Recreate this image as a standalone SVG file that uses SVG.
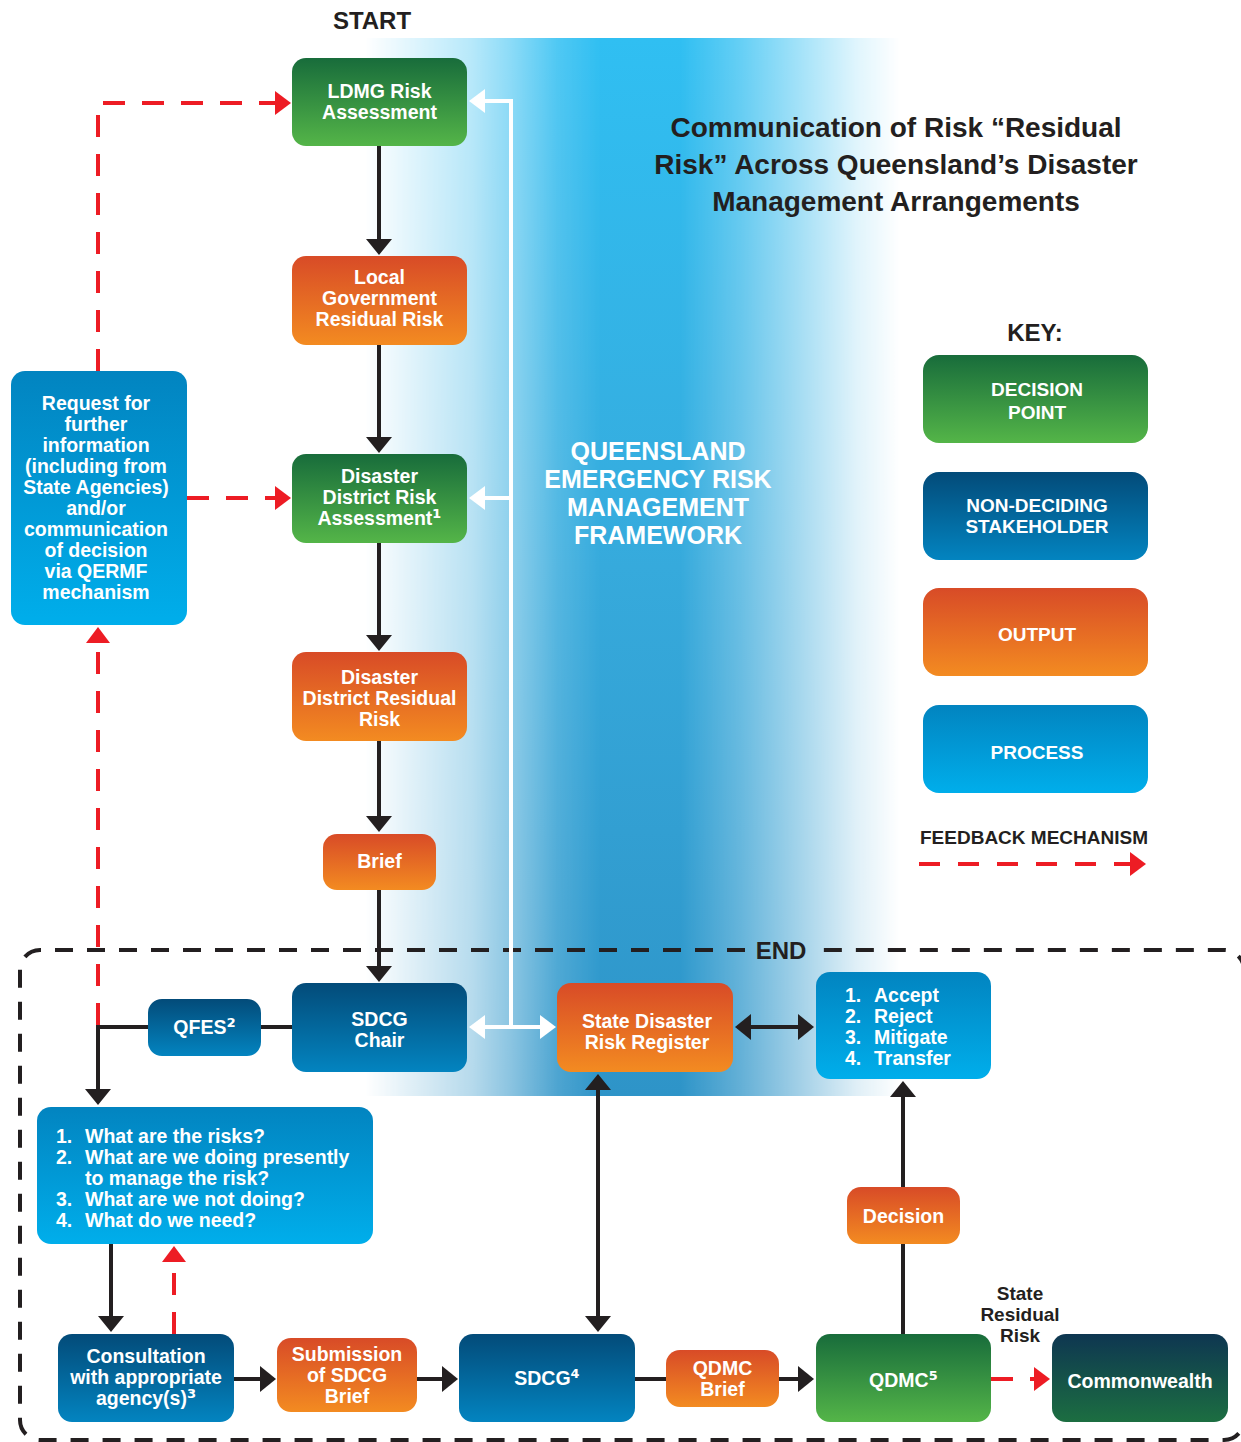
<svg xmlns="http://www.w3.org/2000/svg" width="1241" height="1442" viewBox="0 0 1241 1442">
<defs>
<linearGradient id="gGreen" x1="0" y1="0" x2="0" y2="1"><stop offset="0" stop-color="#186c3b"/><stop offset="1" stop-color="#54b548"/></linearGradient>
<linearGradient id="gOrange" x1="0" y1="0" x2="0" y2="1"><stop offset="0" stop-color="#d84b27"/><stop offset="1" stop-color="#f38b21"/></linearGradient>
<linearGradient id="gDark" x1="0" y1="0" x2="0" y2="1"><stop offset="0" stop-color="#034b79"/><stop offset="1" stop-color="#0384c0"/></linearGradient>
<linearGradient id="gProc" x1="0" y1="0" x2="0" y2="1"><stop offset="0" stop-color="#0284c0"/><stop offset="1" stop-color="#00aeeb"/></linearGradient>
<linearGradient id="gCw" x1="0" y1="0" x2="0" y2="1"><stop offset="0" stop-color="#0e3651"/><stop offset="1" stop-color="#1c6e41"/></linearGradient>
<linearGradient id="bandV" gradientUnits="userSpaceOnUse" x1="0" y1="38" x2="0" y2="1096"><stop offset="0" stop-color="#30bff2"/><stop offset="0.5" stop-color="#36aadc"/><stop offset="1" stop-color="#2e94c8"/></linearGradient>
<linearGradient id="bandH" gradientUnits="userSpaceOnUse" x1="365" y1="0" x2="900" y2="0">
<stop offset="0" stop-color="#fff" stop-opacity="0"/>
<stop offset="0.2" stop-color="#fff" stop-opacity="0.35"/>
<stop offset="0.27" stop-color="#fff" stop-opacity="0.55"/>
<stop offset="0.36" stop-color="#fff" stop-opacity="0.85"/>
<stop offset="0.44" stop-color="#fff" stop-opacity="1"/>
<stop offset="0.59" stop-color="#fff" stop-opacity="1"/>
<stop offset="0.7" stop-color="#fff" stop-opacity="0.75"/>
<stop offset="0.81" stop-color="#fff" stop-opacity="0.45"/>
<stop offset="0.92" stop-color="#fff" stop-opacity="0.15"/>
<stop offset="1" stop-color="#fff" stop-opacity="0"/>
</linearGradient>
<mask id="bandMask" maskUnits="userSpaceOnUse" x="360" y="38" width="545" height="1058"><rect x="360" y="38" width="545" height="1058" fill="url(#bandH)"/></mask>
<marker id="mB" viewBox="0 0 16 26" refX="6" refY="13" markerWidth="16" markerHeight="26" markerUnits="userSpaceOnUse" orient="auto-start-reverse"><path d="M0,0 L16,13 L0,26 z" fill="#231f20"/></marker>
<marker id="mR" viewBox="0 0 16 24" refX="6" refY="12" markerWidth="16" markerHeight="24" markerUnits="userSpaceOnUse" orient="auto-start-reverse"><path d="M0,0 L16,12 L0,24 z" fill="#ed1c24"/></marker>
<marker id="mW" viewBox="0 0 16 24" refX="6" refY="12" markerWidth="16" markerHeight="24" markerUnits="userSpaceOnUse" orient="auto-start-reverse"><path d="M0,0 L16,12 L0,24 z" fill="#fff"/></marker>
<style>
.green{fill:url(#gGreen)}
.orange{fill:url(#gOrange)}
.dark{fill:url(#gDark)}
.proc{fill:url(#gProc)}
.cw{fill:url(#gCw)}
text{font-family:"Liberation Sans",Arial,"DejaVu Sans",sans-serif;font-weight:700}
.sup{font-family:"DejaVu Sans",sans-serif;font-size:21px}
.t{font-size:19.5px;fill:#fff;text-anchor:middle}
.tl{font-size:19.5px;fill:#fff;text-anchor:start}
.k{font-size:19px;fill:#fff;text-anchor:middle}
.h{font-size:24px;fill:#231f20;text-anchor:middle}
.title{font-size:28px;fill:#231f20;text-anchor:middle}
.qf{font-size:25px;fill:#fff;text-anchor:middle}
.blk{stroke:#231f20;stroke-width:4;fill:none}
.red{stroke:#ed1c24;stroke-width:4;fill:none;stroke-dasharray:22 17}
.wht{stroke:#fff;stroke-width:4;fill:none}
.border{stroke:#231f20;stroke-width:4;fill:none;stroke-dasharray:18 14}
</style>
</defs>
<rect width="1241" height="1442" fill="#fff"/>
<rect x="360" y="38" width="545" height="1058" fill="url(#bandV)" mask="url(#bandMask)"/>

<text class="h" x="372" y="29">START</text>
<text class="title" x="896" y="137">Communication of Risk “Residual</text>
<text class="title" x="896" y="174">Risk” Across Queensland’s Disaster</text>
<text class="title" x="896" y="211">Management Arrangements</text>
<text class="qf" x="658" y="460">QUEENSLAND</text>
<text class="qf" x="658" y="488">EMERGENCY RISK</text>
<text class="qf" x="658" y="516">MANAGEMENT</text>
<text class="qf" x="658" y="544">FRAMEWORK</text>

<path class="border" d="M745 950 H40 A20 20 0 0 0 20 970 V1420 A20 20 0 0 0 40 1440 H1224 A20 20 0 0 0 1244 1420 V970 A20 20 0 0 0 1224 950 H818"/>
<text class="h" x="781" y="959">END</text>

<g id="connectors">
<path class="blk" d="M379 146 V245" marker-end="url(#mB)"/>
<path class="blk" d="M379 345 V443" marker-end="url(#mB)"/>
<path class="blk" d="M379 543 V641" marker-end="url(#mB)"/>
<path class="blk" d="M379 741 V822" marker-end="url(#mB)"/>
<path class="blk" d="M379 890 V972" marker-end="url(#mB)"/>
<path class="blk" d="M148 1027 H98 V1095" marker-end="url(#mB)"/>
<path class="blk" d="M261 1027 H292"/>
<path class="blk" d="M111 1244 V1322" marker-end="url(#mB)"/>
<path class="blk" d="M234 1379 H266" marker-end="url(#mB)"/>
<path class="blk" d="M417 1379 H448" marker-end="url(#mB)"/>
<path class="blk" d="M635 1379 H666"/>
<path class="blk" d="M779 1379 H804" marker-end="url(#mB)"/>
<path class="blk" d="M598 1084 V1322" marker-start="url(#mB)" marker-end="url(#mB)"/>
<path class="blk" d="M745 1027 H804" marker-start="url(#mB)" marker-end="url(#mB)"/>
<path class="blk" d="M903 1334 V1244"/>
<path class="blk" d="M903 1187 V1091" marker-end="url(#mB)"/>
<path class="wht" d="M511 1027 V101 H479" marker-end="url(#mW)"/>
<path class="wht" d="M511 498 H479" marker-end="url(#mW)"/>
<path class="wht" d="M479 1027 H546" marker-start="url(#mW)" marker-end="url(#mW)"/>
<path class="red" d="M98 371 V103 H281" marker-end="url(#mR)"/>
<path class="red" d="M187 498 H281" marker-end="url(#mR)"/>
<path class="red" d="M98 1025 V637" marker-end="url(#mR)"/>
<path class="red" d="M174 1334 V1256" marker-end="url(#mR)"/>
<path class="red" d="M991 1379 H1040" marker-end="url(#mR)"/>
</g>

<g id="ldmg"><rect class="green" x="292" y="58" width="175" height="88" rx="14"/><text class="t" x="379.5" y="98">LDMG Risk</text><text class="t" x="379.5" y="119">Assessment</text></g>
<g id="lgrr"><rect class="orange" x="292" y="256" width="175" height="89" rx="14"/><text class="t" x="379.5" y="284">Local</text><text class="t" x="379.5" y="305">Government</text><text class="t" x="379.5" y="326">Residual Risk</text></g>
<g id="ddra"><rect class="green" x="292" y="454" width="175" height="89" rx="14"/><text class="t" x="379.5" y="483">Disaster</text><text class="t" x="379.5" y="504">District Risk</text><text class="t" x="379.5" y="525">Assessment<tspan class="sup">¹</tspan></text></g>
<g id="ddrr"><rect class="orange" x="292" y="652" width="175" height="89" rx="14"/><text class="t" x="379.5" y="684">Disaster</text><text class="t" x="379.5" y="705">District Residual</text><text class="t" x="379.5" y="726">Risk</text></g>
<g id="brief"><rect class="orange" x="323" y="834" width="113" height="56" rx="14"/><text class="t" x="379.5" y="868">Brief</text></g>
<g id="request"><rect class="proc" x="11" y="371" width="176" height="254" rx="14"/>
<text class="t" x="96" y="410">Request for</text><text class="t" x="96" y="431">further</text><text class="t" x="96" y="452">information</text><text class="t" x="96" y="473">(including from</text><text class="t" x="96" y="494">State Agencies)</text><text class="t" x="96" y="515">and/or</text><text class="t" x="96" y="536">communication</text><text class="t" x="96" y="557">of decision</text><text class="t" x="96" y="578">via QERMF</text><text class="t" x="96" y="599">mechanism</text></g>
<g id="sdcg-chair"><rect class="dark" x="292" y="983" width="175" height="89" rx="14"/><text class="t" x="379.5" y="1026">SDCG</text><text class="t" x="379.5" y="1047">Chair</text></g>
<g id="qfes"><rect class="dark" x="148" y="999" width="113" height="57" rx="14"/><text class="t" x="204.5" y="1034">QFES<tspan class="sup">²</tspan></text></g>
<g id="sdrr"><rect class="orange" x="557" y="983" width="176" height="89" rx="14"/><text class="t" x="647" y="1028">State Disaster</text><text class="t" x="647" y="1049">Risk Register</text></g>
<g id="options"><rect class="proc" x="816" y="972" width="175" height="107" rx="14"/>
<text class="tl" x="845" y="1002">1.</text><text class="tl" x="874" y="1002">Accept</text>
<text class="tl" x="845" y="1023">2.</text><text class="tl" x="874" y="1023">Reject</text>
<text class="tl" x="845" y="1044">3.</text><text class="tl" x="874" y="1044">Mitigate</text>
<text class="tl" x="845" y="1065">4.</text><text class="tl" x="874" y="1065">Transfer</text></g>
<g id="questions"><rect class="proc" x="37" y="1107" width="336" height="137" rx="14"/>
<text class="tl" x="56" y="1143">1.</text><text class="tl" x="85" y="1143">What are the risks?</text>
<text class="tl" x="56" y="1164">2.</text><text class="tl" x="85" y="1164">What are we doing presently</text>
<text class="tl" x="85" y="1185">to manage the risk?</text>
<text class="tl" x="56" y="1206">3.</text><text class="tl" x="85" y="1206">What are we not doing?</text>
<text class="tl" x="56" y="1227">4.</text><text class="tl" x="85" y="1227">What do we need?</text></g>
<g id="decision"><rect class="orange" x="847" y="1187" width="113" height="57" rx="14"/><text class="t" x="903.5" y="1223">Decision</text></g>
<g id="consultation"><rect class="dark" x="58" y="1334" width="176" height="88" rx="14"/><text class="t" x="146" y="1363">Consultation</text><text class="t" x="146" y="1384">with appropriate</text><text class="t" x="146" y="1405">agency(s)<tspan class="sup">³</tspan></text></g>
<g id="submission"><rect class="orange" x="277" y="1338" width="140" height="74" rx="14"/><text class="t" x="347" y="1361">Submission</text><text class="t" x="347" y="1382">of SDCG</text><text class="t" x="347" y="1403">Brief</text></g>
<g id="sdcg"><rect class="dark" x="459" y="1334" width="176" height="88" rx="14"/><text class="t" x="547" y="1385">SDCG<tspan class="sup">⁴</tspan></text></g>
<g id="qdmc-brief"><rect class="orange" x="666" y="1350" width="113" height="57" rx="14"/><text class="t" x="722.5" y="1375">QDMC</text><text class="t" x="722.5" y="1396">Brief</text></g>
<g id="qdmc"><rect class="green" x="816" y="1334" width="175" height="88" rx="14"/><text class="t" x="903.5" y="1387">QDMC<tspan class="sup">⁵</tspan></text></g>
<g id="commonwealth"><rect class="cw" x="1052" y="1334" width="176" height="88" rx="14"/><text class="t" x="1140" y="1388">Commonwealth</text></g>
<g id="state-residual-label"><text class="t" x="1020" y="1300" style="fill:#231f20;font-size:19px">State</text><text class="t" x="1020" y="1321" style="fill:#231f20;font-size:19px">Residual</text><text class="t" x="1020" y="1342" style="fill:#231f20;font-size:19px">Risk</text></g>

<g id="key">
<text class="h" x="1035" y="341">KEY:</text>
<rect class="green" x="923" y="355" width="225" height="88" rx="16"/><text class="k" x="1037" y="396">DECISION</text><text class="k" x="1037" y="419">POINT</text>
<rect class="dark" x="923" y="472" width="225" height="88" rx="16"/><text class="k" x="1037" y="512">NON-DECIDING</text><text class="k" x="1037" y="533">STAKEHOLDER</text>
<rect class="orange" x="923" y="588" width="225" height="88" rx="16"/><text class="k" x="1037" y="641">OUTPUT</text>
<rect class="proc" x="923" y="705" width="225" height="88" rx="16"/><text class="k" x="1037" y="759">PROCESS</text>
<text class="h" x="1034" y="844" style="font-size:19px">FEEDBACK MECHANISM</text>
<path class="red" d="M919 864 H1136" style="stroke-dasharray:21 18" marker-end="url(#mR)"/>
</g>
</svg>
